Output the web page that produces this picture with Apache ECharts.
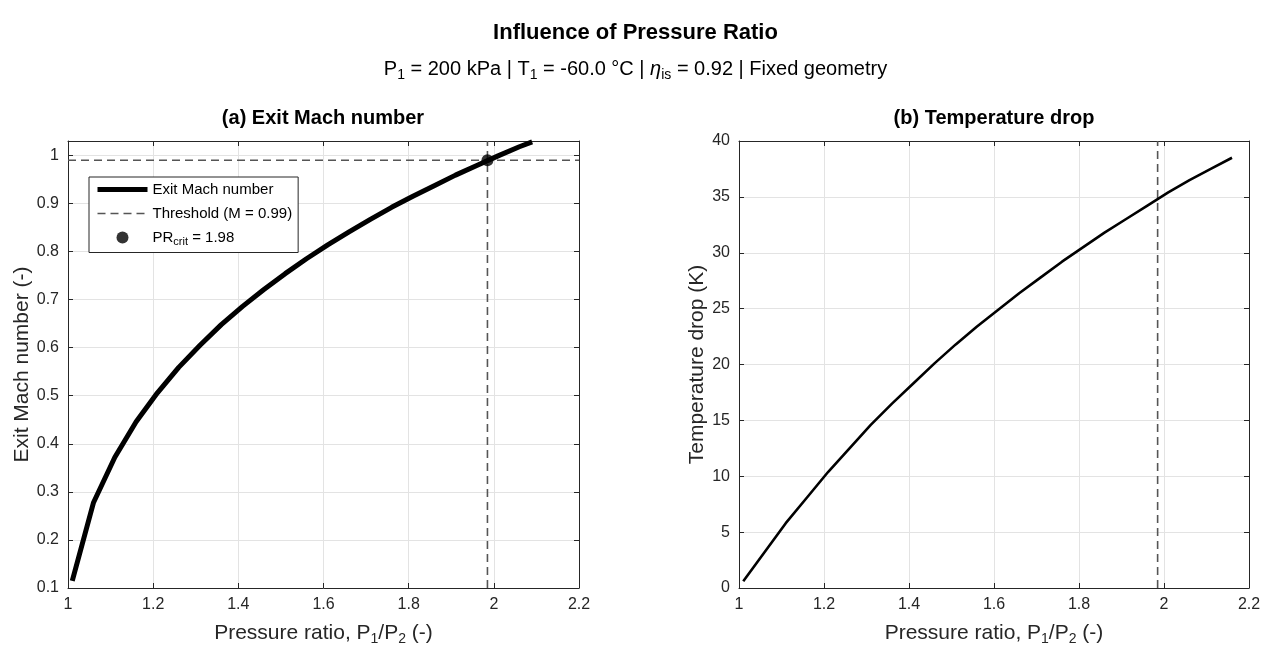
<!DOCTYPE html>
<html>
<head>
<meta charset="utf-8">
<script src="https://cdn.jsdelivr.net/npm/echarts@6/dist/echarts.min.js"></script>
<style>
  html, body { margin: 0; padding: 0; background: #fff; }
  #chart { width: 1271px; height: 650px; }
</style>
</head>
<body>
<div id="chart"></div>
<script>
// values
const pressureRatioMach = [1.01, 1.06, 1.11, 1.16, 1.21, 1.26, 1.31, 1.36, 1.41, 1.46, 1.51, 1.56,
  1.61, 1.66, 1.71, 1.76, 1.81, 1.86, 1.91, 1.96, 2.01, 2.06, 2.09];
const exitMach = [0.115, 0.278, 0.372, 0.446, 0.506, 0.559, 0.605, 0.648, 0.686, 0.721, 0.754, 0.785,
  0.814, 0.841, 0.867, 0.892, 0.915, 0.937, 0.959, 0.979, 0.999, 1.018, 1.028];

const pressureRatioTemp = [1.01, 1.06, 1.11, 1.16, 1.21, 1.26, 1.31, 1.36, 1.41, 1.46, 1.51, 1.56,
  1.61, 1.66, 1.71, 1.76, 1.81, 1.86, 1.91, 1.96, 2.01, 2.06, 2.11, 2.16];
const tempDrop = [0.6, 3.2, 5.8, 8.1, 10.4, 12.5, 14.6, 16.5, 18.3, 20.1, 21.8, 23.4,
  24.9, 26.4, 27.8, 29.2, 30.5, 31.8, 33.0, 34.2, 35.4, 36.5, 37.5, 38.5];

const machThreshold = 0.99;
const prCrit = 1.985;

// axis ranges / ticks
const xMin = 1, xMax = 2.2, xStep = 0.2;
const machMin = 0.1, machMax = 1.03, machStep = 0.1;
const tempMin = 0, tempMax = 40, tempStep = 5;

const FONT = '"Liberation Sans", Arial, Helvetica, sans-serif';
const AX = '#262626';
const GRIDC = '#e3e3e3';
const DASH = '#555555';
const DASHTYPE = [8, 5];

const chart = echarts.init(document.getElementById('chart'));

const tickLabel = { color: AX, fontSize: 16, fontFamily: FONT, margin: 9 };
const nameStyle = {
  color: AX, fontSize: 21, fontFamily: FONT,
  rich: { sub: { fontSize: 14, fontFamily: FONT, color: AX, padding: [11, 0, 0, 0] } }
};

function mainAxis(grid, min, max, step, extra) {
  return Object.assign({
    type: 'value', gridIndex: grid, min: min, max: max, interval: step,
    axisLine: { show: true, onZero: false, lineStyle: { color: AX, width: 1 } },
    axisTick: { show: true, inside: true, length: 5, lineStyle: { color: AX } },
    axisLabel: tickLabel,
    splitLine: { show: true, lineStyle: { color: GRIDC, width: 1 } }
  }, extra);
}
function mirrorAxis(grid, min, max, step, pos) {
  return {
    type: 'value', gridIndex: grid, min: min, max: max, interval: step, position: pos,
    axisLine: { show: true, onZero: false, lineStyle: { color: AX, width: 1 } },
    axisTick: { show: true, inside: true, length: 5, lineStyle: { color: AX } },
    axisLabel: { show: false },
    splitLine: { show: false }
  };
}

const xName = 'Pressure ratio, P{sub|1}/P{sub|2} (-)';

const option = {
  animation: false,
  backgroundColor: '#fff',
  title: [
    { text: 'Influence of Pressure Ratio', left: 'center', top: 22, padding: 0,
      textStyle: { fontSize: 22, fontWeight: 'bold', color: '#000', fontFamily: FONT } },
    { text: 'P{sub|1} = 200 kPa | T{sub|1} = -60.0 °C | {eta|η}{sub|is} = 0.92 | Fixed geometry',
      left: 'center', top: 56, padding: 0,
      textStyle: { fontSize: 20, fontWeight: 'normal', color: '#000', fontFamily: FONT,
        rich: {
          sub: { fontSize: 14, fontFamily: FONT, color: '#000', padding: [12, 0, 0, 0] },
          eta: { fontSize: 20, fontFamily: FONT, color: '#000', fontStyle: 'italic' }
        } } },
    { text: '(a) Exit Mach number', left: 323, textAlign: 'center', top: 108, padding: 0,
      textStyle: { fontSize: 20, fontWeight: 'bold', color: '#000', fontFamily: FONT } },
    { text: '(b) Temperature drop', left: 994, textAlign: 'center', top: 108, padding: 0,
      textStyle: { fontSize: 20, fontWeight: 'bold', color: '#000', fontFamily: FONT } }
  ],
  legend: {
    data: [
      { name: 'Exit Mach number', itemStyle: { opacity: 0 },
        lineStyle: { color: '#000', width: 5, type: 'solid' } },
      { name: 'Threshold (M = 0.99)', itemStyle: { opacity: 0 },
        lineStyle: { color: DASH, width: 1.6, type: DASHTYPE } },
      { name: 'PRcrit = 1.98', icon: 'circle', itemStyle: { color: '#000' } }
    ],
    orient: 'vertical', left: 89, top: 177,
    padding: [5, 6, 5, 6], itemGap: 9, itemWidth: 50, itemHeight: 12,
    borderColor: AX, borderWidth: 1, borderRadius: 0, backgroundColor: '#fff',
    textStyle: { fontSize: 15, color: '#000', fontFamily: FONT, width: 140,
      rich: { sub: { fontSize: 11, fontFamily: FONT, color: '#000', padding: [9, 0, 0, 0] } } },
    formatter: function (n) {
      return n === 'PRcrit = 1.98' ? 'PR{sub|crit} = 1.98' : n;
    }
  },
  grid: [
    { left: 68, right: 692, top: 141, bottom: 62, outerBoundsMode: 'none' },
    { left: 739, right: 22, top: 141, bottom: 62, outerBoundsMode: 'none' }
  ],
  xAxis: [
    mainAxis(0, xMin, xMax, xStep, { name: xName, nameLocation: 'middle', nameGap: 33, nameTextStyle: nameStyle }),
    mirrorAxis(0, xMin, xMax, xStep, 'top'),
    mainAxis(1, xMin, xMax, xStep, { name: xName, nameLocation: 'middle', nameGap: 33, nameTextStyle: nameStyle }),
    mirrorAxis(1, xMin, xMax, xStep, 'top')
  ],
  yAxis: [
    mainAxis(0, machMin, machMax, machStep, {
      name: 'Exit Mach number (-)', nameLocation: 'middle', nameGap: 35, nameTextStyle: nameStyle,
      axisLabel: Object.assign({ showMaxLabel: false }, tickLabel)
    }),
    mirrorAxis(0, machMin, machMax, machStep, 'right'),
    mainAxis(1, tempMin, tempMax, tempStep, { name: 'Temperature drop (K)', nameLocation: 'middle', nameGap: 31, nameTextStyle: nameStyle }),
    mirrorAxis(1, tempMin, tempMax, tempStep, 'right')
  ],
  series: [
    { name: 'Threshold (M = 0.99)', type: 'line', xAxisIndex: 0, yAxisIndex: 0,
      data: [[xMin, machThreshold], [xMax, machThreshold]], symbol: 'none', z: 2,
      lineStyle: { color: DASH, width: 1.6, type: DASHTYPE }, itemStyle: { color: DASH } },
    { name: 'critA', type: 'line', xAxisIndex: 0, yAxisIndex: 0,
      data: [[prCrit, machMin], [prCrit, machMax]], symbol: 'none', z: 2,
      lineStyle: { color: DASH, width: 1.6, type: DASHTYPE } },
    { name: 'Exit Mach number', type: 'line', xAxisIndex: 0, yAxisIndex: 0,
      data: pressureRatioMach.map((x, i) => [x, exitMach[i]]), symbol: 'none', z: 3,
      lineStyle: { color: '#000', width: 5 }, itemStyle: { color: '#000' } },
    { name: 'PRcrit = 1.98', type: 'scatter', xAxisIndex: 0, yAxisIndex: 0,
      data: [[prCrit, machThreshold]], symbol: 'circle', symbolSize: 12, z: 5,
      itemStyle: { color: '#000' } },
    { name: 'critB', type: 'line', xAxisIndex: 2, yAxisIndex: 2,
      data: [[prCrit, tempMin], [prCrit, tempMax]], symbol: 'none', z: 2,
      lineStyle: { color: DASH, width: 1.6, type: DASHTYPE } },
    { name: 'Temperature drop', type: 'line', xAxisIndex: 2, yAxisIndex: 2,
      data: pressureRatioTemp.map((x, i) => [x, tempDrop[i]]), symbol: 'none', z: 3,
      lineStyle: { color: '#000', width: 2.6 } }
  ]
};

chart.setOption(option);
</script>
</body>
</html>
